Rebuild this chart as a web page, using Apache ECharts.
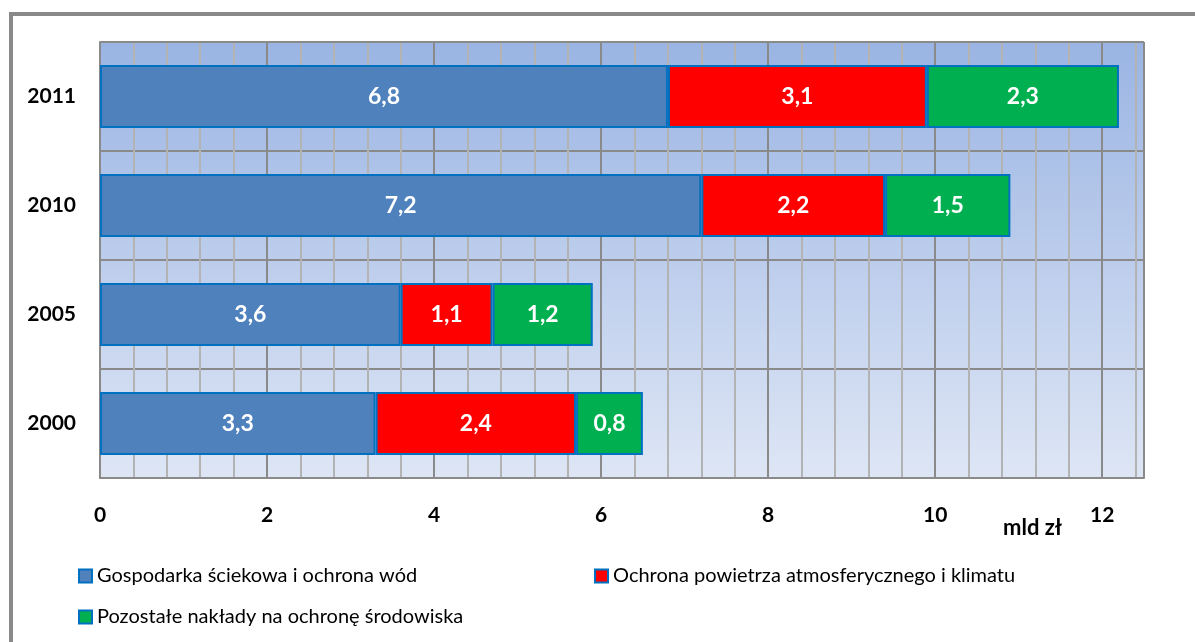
<!DOCTYPE html>
<html><head><meta charset="utf-8">
<script src="https://cdn.jsdelivr.net/npm/echarts@6/dist/echarts.min.js"></script>
<style>
html,body{margin:0;padding:0;width:1195px;height:642px;overflow:hidden;background:#fff;}
#frame{position:absolute;left:9px;top:12px;width:1300px;height:700px;border:4px solid #898989;box-sizing:border-box;}
#chart{position:absolute;left:0;top:0;width:1195px;height:642px;}
</style></head>
<body>
<div id="frame"></div>
<div id="chart"></div>
<script>
const categories = ['2000', '2005', '2010', '2011'];
const seriesNames = [
  'Gospodarka ściekowa i ochrona wód',
  'Ochrona powietrza atmosferycznego i klimatu',
  'Pozostałe nakłady na ochronę środowiska'
];
const water = [3.3, 3.6, 7.2, 6.8];
const air = [2.4, 1.1, 2.2, 3.1];
const other = [0.8, 1.2, 1.5, 2.3];
const xTickLabels = ['0', '2', '4', '6', '8', '10', '12'];
const unitLabel = 'mld zł';

const FONT = 'Lato';
const colors = ['#4F81BD', '#FF0000', '#00B050'];
const values = [water, air, other];

const chart = echarts.init(document.getElementById('chart'), null, {renderer: 'canvas'});
const series = values.map((arr, i) => ({
  name: seriesNames[i],
  type: 'bar',
  stack: 'total',
  xAxisIndex: 1,
  barWidth: 63,
  data: arr,
  itemStyle: {color: colors[i], borderColor: '#0070C0', borderWidth: 2},
  label: {
    show: true, position: 'inside', color: '#fff', fontFamily: FONT,
    fontWeight: 'bold', fontSize: 23,
    formatter: p => String(p.value).replace('.', ',')
  }
}));

const legendBase = {
  icon: 'rect', itemWidth: 13, itemHeight: 13, itemGap: 5,
  textStyle: {fontFamily: FONT, fontSize: 20, color: '#000'},
  padding: 0
};

chart.setOption({
  animation: false,
  backgroundColor: 'transparent',
  grid: {
    left: 100, top: 42, right: 51, bottom: 164, show: true,
    borderWidth: 0,
    backgroundColor: new echarts.graphic.LinearGradient(0, 0, 0, 1, [
      {offset: 0, color: '#9AB4E3'},
      {offset: 0.5, color: '#BCCDEC'},
      {offset: 1, color: '#DEE6F5'}
    ])
  },
  xAxis: [
    {
      type: 'value', min: 0, max: 12.5, interval: 0.4, position: 'bottom',
      axisLine: {show: false}, axisTick: {show: false}, axisLabel: {show: false},
      splitLine: {show: true, lineStyle: {color: '#B3B3B3', width: 2}}
    },
    {
      type: 'value', min: 0, max: 12.5, interval: 2, position: 'bottom',
      axisLine: {show: true, lineStyle: {color: '#8A8A8A', width: 2}},
      axisTick: {show: false},
      splitLine: {show: true, lineStyle: {color: '#8A8A8A', width: 2}},
      axisLabel: {
        margin: 27, fontFamily: FONT, fontWeight: 'bold', fontSize: 21, color: '#000',
        showMaxLabel: false,
        formatter: v => {
          const idx = Math.round(v / 2);
          return (Math.abs(v - idx * 2) < 1e-6 && xTickLabels[idx] !== undefined) ? xTickLabels[idx] : '';
        }
      }
    }
  ],
  yAxis: {
    type: 'category', data: categories,
    axisLine: {show: true, lineStyle: {color: '#8A8A8A', width: 2}},
    axisTick: {show: false},
    splitLine: {show: true, lineStyle: {color: '#8A8A8A', width: 2}},
    axisLabel: {margin: 24, fontFamily: FONT, fontWeight: 'bold', fontSize: 21, color: '#000'}
  },
  legend: [
    Object.assign({}, legendBase, {data: [seriesNames[0]], left: 78, top: 566}),
    Object.assign({}, legendBase, {data: [seriesNames[1]], left: 594, top: 566}),
    Object.assign({}, legendBase, {data: [seriesNames[2]], left: 78, top: 607})
  ],
  graphic: [
    {type: 'line', shape: {x1: 100, y1: 42, x2: 1144, y2: 42}, style: {stroke: '#8A8A8A', lineWidth: 2}, z: 10},
    {type: 'text', left: 1003, top: 517, style: {text: unitLabel, fontFamily: FONT, fontWeight: 'bold', fontSize: 22, fill: '#000'}}
  ],
  series: series
});
</script>
</body></html>
